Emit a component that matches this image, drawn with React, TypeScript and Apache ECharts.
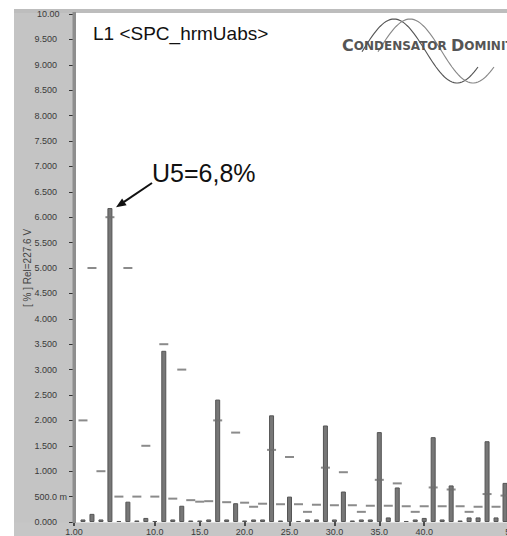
import React, { useEffect, useRef } from "react";
import * as echarts from "echarts";

// Harmonic orders shown on the chart
const harmonics = [
  2, 3, 4, 5, 6, 7, 8, 9, 10, 11, 12, 13, 14, 15, 16, 17, 18, 19, 20, 21, 22, 23, 24, 25,
  26, 27, 28, 29, 30, 31, 32, 33, 34, 35, 36, 37, 38, 39, 40, 41, 42, 43, 44, 45, 46, 47, 48, 49,
];
// Measured harmonic voltage [%]
const harmonicValues = [
  0.05, 0.16, 0.05, 6.18, 0.02, 0.4, 0.03, 0.08, 0.02, 3.37, 0.05, 0.32, 0.03, 0.03, 0.05, 2.41,
  0.05, 0.37, 0.03, 0.05, 0.05, 2.1, 0.03, 0.5, 0.02, 0.05, 0.05, 1.9, 0.05, 0.6, 0.03, 0.05,
  0.05, 1.77, 0.09, 0.68, 0.02, 0.05, 0.08, 1.67, 0.05, 0.72, 0.03, 0.09, 0.09, 1.59, 0.09, 0.77,
];
// Limit levels [%] (short dashes)
const limitValues = [
  2.0, 5.0, 1.0, 6.0, 0.5, 5.0, 0.5, 1.5, 0.5, 3.5, 0.46, 3.0, 0.43, 0.4, 0.41, 2.0,
  0.39, 1.76, 0.38, 0.3, 0.36, 1.42, 0.35, 1.28, 0.35, 0.2, 0.34, 1.07, 0.33, 0.98, 0.33, 0.2,
  0.32, 0.83, 0.32, 0.76, 0.31, 0.2, 0.31, 0.68, 0.31, 0.64, 0.31, 0.2, 0.3, 0.55, 0.3, 0.52,
];
const xLabelValues = [1, 10, 15, 20, 25, 30, 35, 40, 50];
const xMin = 1;
const xMax = 50;
const yMin = 0;
const yMax = 10;
const yStep = 0.5;
const titleText = "L1 <SPC_hrmUabs>";
const annotationText = "U5=6,8%";
const yAxisName = "[ % ] Rel=227.6 V";

const FONT = "'Liberation Sans', Arial, sans-serif";
const LOGO_FONT = "'DejaVu Sans', sans-serif";

function wavePoints(x0: number, x1: number, peakX: number) {
  const pts: number[][] = [];
  for (let x = x0; x <= x1; x += 2) {
    pts.push([x, 51 - 32 * Math.cos((2 * Math.PI * (x - peakX)) / 126)]);
  }
  return pts;
}

export default function App() {
  const ref = useRef<HTMLDivElement>(null);

  useEffect(() => {
    if (!ref.current) return;
    const chart = echarts.init(ref.current, undefined, { renderer: "svg" });

    const barData = harmonics.map((h, i) => [h, harmonicValues[i]]);
    const limitData = harmonics.map((h, i) => [h, limitValues[i]]);

    const yLabel = (v: number) => {
      if (v === 10) return "10.00{h|m}";
      if (v === 0.5) return "500.0 {v|m}";
      return v.toFixed(3) + " {h|m}";
    };

    chart.setOption({
      animation: false,
      grid: { left: 74, top: 14, right: 16, bottom: 14 },
      xAxis: {
        type: "value",
        z: 6,
        min: xMin,
        max: xMax,
        axisLine: { show: false },
        splitLine: { show: false },
        axisTick: {
          show: true,
          customValues: xLabelValues,
          length: 4,
          lineStyle: { color: "#222", width: 1.5 },
        },
        axisLabel: {
          customValues: xLabelValues,
          formatter: (v: number) => (v === 1 ? "1.00" : v.toFixed(1)),
          fontSize: 9,
          fontFamily: FONT,
          color: "#3a3a3a",
          margin: 5,
        },
      },
      yAxis: {
        type: "value",
        z: 6,
        min: yMin,
        max: yMax,
        interval: yStep,
        name: yAxisName,
        nameLocation: "middle",
        nameRotate: 90,
        nameGap: 42,
        nameMoveOverlap: false,
        nameTextStyle: { fontSize: 10, fontFamily: FONT, color: "#444" },
        axisLine: { show: false },
        splitLine: { show: false },
        axisTick: { show: true, length: 5, lineStyle: { color: "#333", width: 1 } },
        axisLabel: {
          formatter: yLabel,
          fontSize: 9,
          fontFamily: FONT,
          color: "#3a3a3a",
          margin: 7,
          showMinLabel: true,
          showMaxLabel: true,
          rich: {
            h: { fontSize: 9, fontFamily: FONT, color: "rgba(0,0,0,0)" },
            v: { fontSize: 9, fontFamily: FONT, color: "#3a3a3a" },
          },
        },
      },
      graphic: [
        { type: "rect", z: 1, shape: { x: 14, y: 9, width: 60, height: 527 }, style: { fill: "#c4c4c4" } },
        { type: "rect", z: 1, shape: { x: 14, y: 9, width: 520, height: 4 }, style: { fill: "#bdbdbd" } },
        { type: "rect", z: 1, shape: { x: 14, y: 522.5, width: 520, height: 14 }, style: { fill: "#c6c6c6" } },
        { type: "rect", z: 10, shape: { x: 72.5, y: 12, width: 3.5, height: 511 }, style: { fill: "#8e8e8e" } },
        {
          type: "text",
          z: 10,
          x: 93,
          y: 33,
          style: { text: titleText, fontSize: 19, fontFamily: FONT, fill: "#111", verticalAlign: "middle" },
        },
        {
          type: "polyline",
          z: 10,
          shape: { points: wavePoints(362, 478, 394) },
          style: { stroke: "#555", lineWidth: 1.1, fill: "none" },
        },
        {
          type: "polyline",
          z: 10,
          shape: { points: wavePoints(378, 494, 410) },
          style: { stroke: "#888", lineWidth: 1.1, fill: "none" },
        },
        {
          type: "text",
          z: 11,
          x: 342,
          y: 45.5,
          style: {
            text: "{b|C}{s|ONDENSATOR }{b|D}{s|OMINIT}",
            fill: "#555",
            verticalAlign: "middle",
            rich: {
              b: { fontSize: 16, fontWeight: "bold", fontFamily: LOGO_FONT, fill: "#555" },
              s: { fontSize: 12, fontWeight: "bold", fontFamily: LOGO_FONT, fill: "#555" },
            },
          },
        },
        {
          type: "text",
          z: 10,
          x: 152,
          y: 173,
          style: { text: annotationText, fontSize: 25, fontFamily: FONT, fill: "#111", verticalAlign: "middle" },
        },
        {
          type: "line",
          z: 10,
          shape: { x1: 152, y1: 183, x2: 124, y2: 201.8 },
          style: { stroke: "#111", lineWidth: 2 },
        },
        {
          type: "polygon",
          z: 10,
          shape: { points: [[116, 207.3], [126.6, 205.2], [122.1, 198.4]] },
          style: { fill: "#111" },
        },
      ],
      series: [
        {
          type: "bar",
          data: barData,
          barWidth: 5,
          itemStyle: { color: "#777777", borderColor: "#555555", borderWidth: 1 },
          z: 3,
        },
        {
          type: "scatter",
          data: limitData,
          symbol: "rect",
          symbolSize: [9, 2],
          itemStyle: { color: "#6e6e6e" },
          z: 4,
        },
      ],
    });

    return () => chart.dispose();
  }, []);

  return (
    <div
      style={{
        position: "fixed",
        left: 0,
        top: 0,
        width: 507,
        height: 536,
        overflow: "hidden",
        background: "#fff",
      }}
    >
      <div ref={ref} style={{ width: 530, height: 536 }} />
    </div>
  );
}
